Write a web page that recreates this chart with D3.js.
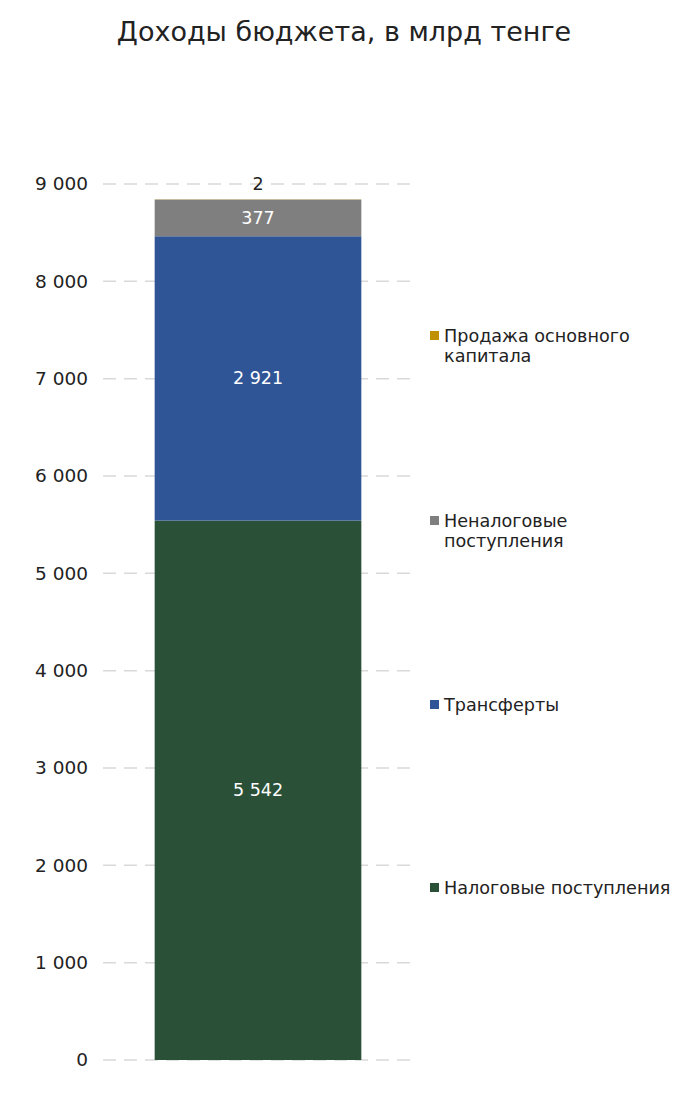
<!DOCTYPE html>
<html><head><meta charset="utf-8">
<script src="https://cdn.jsdelivr.net/npm/d3@7"></script>
<style>body{margin:0;background:#fff}text{font-family:"DejaVu Sans",sans-serif}</style>
</head><body>
<svg id="c" width="688" height="1117"></svg>
<script>
const categories = ["Доходы"];
const seriesNames = ["Налоговые поступления","Трансферты","Неналоговые поступления","Продажа основного капитала"];
const seriesValues = [5542, 2921, 377, 2];
const seriesLabels = ["5 542","2 921","377","2"];
const seriesColors = ["#2a5038","#2f5597","#7f7f7f","#bf9000"];
const tickValues = [0,1000,2000,3000,4000,5000,6000,7000,8000,9000];
const tickLabels = ["0","1 000","2 000","3 000","4 000","5 000","6 000","7 000","8 000","9 000"];
const legendLines = [["Продажа основного","капитала"],["Неналоговые","поступления"],["Трансферты"],["Налоговые поступления"]];
const legendOrder = [3,2,1,0];

const svg = d3.select("#c");
const y = d3.scaleLinear().domain([0,9000]).range([1060,184]);
const x = d3.scaleBand().domain(categories).range([103,413]).paddingInner(0).paddingOuter(0.25);

svg.append("text").attr("x",344).attr("y",41).attr("text-anchor","middle")
  .attr("font-size",27).attr("fill","#222").text("Доходы бюджета, в млрд тенге");

// grid
svg.append("g").selectAll("line").data(tickValues).join("line")
  .attr("x1",103).attr("x2",413).attr("y1",d=>y(d)).attr("y2",d=>y(d))
  .attr("stroke","#d9d9d9").attr("stroke-width",1.5).attr("stroke-dasharray","13,8");

const axis = d3.axisLeft(y).tickValues(tickValues).tickFormat((d,i)=>tickLabels[i]).tickSize(0).tickPadding(15);
const ag = svg.append("g").attr("transform","translate(103,0)").call(axis);
ag.select(".domain").remove();
ag.selectAll("text").attr("font-size",18.5).attr("fill","#222").style("font-family","DejaVu Sans");

// stacked
let cum = 0;
const segs = seriesValues.map((v,i)=>{const s={i,v,y0:cum,y1:cum+v};cum+=v;return s;});
svg.append("g").selectAll("rect").data(segs).join("rect")
  .attr("x",x(categories[0])).attr("width",x.bandwidth())
  .attr("y",d=>y(d.y1)).attr("height",d=>y(d.y0)-y(d.y1))
  .attr("fill",d=>seriesColors[d.i]);

svg.append("g").selectAll("text").data(segs).join("text")
  .attr("x",x(categories[0])+x.bandwidth()/2)
  .attr("y",d=> d.i===3 ? y(d.y1)-9 : y((d.y0+d.y1)/2)+6)
  .attr("text-anchor","middle").attr("font-size",17.5)
  .attr("fill",d=>d.i===3?"#222":"#fff")
  .text(d=>seriesLabels[d.i]);

// legend
const legendY = [335,520,704,887];
const lg = svg.append("g");
legendOrder.forEach((si,k)=>{
  const g = lg.append("g").attr("transform",`translate(430,${legendY[k]})`);
  g.append("rect").attr("x",0).attr("y",-4).attr("width",9).attr("height",9).attr("fill",seriesColors[si]);
  legendLines[k].forEach((t,j)=>{
    g.append("text").attr("x",14).attr("y",7+j*20).attr("font-size",17.6).attr("fill","#222").text(t);
  });
});
</script>
</body></html>
